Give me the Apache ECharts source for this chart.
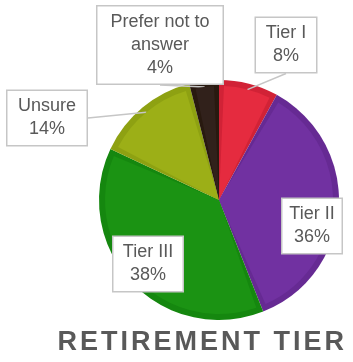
<!DOCTYPE html>
<html>
<head>
<meta charset="utf-8">
<script src="https://cdn.jsdelivr.net/npm/echarts@6/dist/echarts.min.js"></script>
<style>
  html, body { margin: 0; padding: 0; background: #ffffff; }
  #chart { width: 353px; height: 362px; }
</style>
</head>
<body>
<div id="chart"></div>
<script>
// Survey answers: share of respondents by retirement tier (percent)
const categories = ['Tier I', 'Tier II', 'Tier III', 'Unsure', 'Prefer not to answer'];
const labelLines = ['Tier I', 'Tier II', 'Tier III', 'Unsure', 'Prefer not to\nanswer'];
const shares = [8, 36, 38, 14, 4];
const chartTitle = 'RETIREMENT TIER';

// Slice colours: lighter face and a darker rim around each slice
const faceColors = ['#E52B3F', '#7131A1', '#1B9313', '#9CAF17', '#31211B'];
const rimColors  = ['#D12236', '#662A93', '#15870F', '#8EA112', '#28190F'];

// Callout boxes: centre, inner width, and whether a leader line is drawn
const calloutCentres = [[286, 45], [312, 226], [148, 264], [47, 118], [160, 45]];
const calloutWidths = [52, 51, 61, 71, 117];
const calloutLeader = [true, false, false, true, true];

const textGray = '#595959';
const boxGray = '#c6c6c6';
const pieCenter = [219, 200];

const rimData = categories.map((name, i) => ({
  name, value: shares[i], itemStyle: { color: rimColors[i] }
}));

const faceData = categories.map((name, i) => ({
  name, value: shares[i],
  itemStyle: { color: faceColors[i] },
  label: { width: calloutWidths[i] },
  labelLine: { show: calloutLeader[i] }
}));

// Title drawn as spaced capital letters
const titleRich = chartTitle.split('').map(ch => ch === ' ' ? '{sp| }' : '{ch|' + ch + '}').join('');
const titleToken = {
  fontFamily: 'Liberation Sans, Arial, sans-serif',
  fontSize: 27, fontWeight: 'bold', color: textGray,
  padding: [0, 1.5]
};

const chart = echarts.init(document.getElementById('chart'), null, { renderer: 'canvas' });

chart.setOption({
  animation: false,
  backgroundColor: '#ffffff',
  title: {
    text: titleRich,
    left: 56,
    top: 329,
    padding: 0,
    textStyle: { rich: { ch: titleToken, sp: titleToken } }
  },
  series: [
    {
      type: 'pie',
      silent: true,
      center: pieCenter,
      radius: [0, 120],
      startAngle: 90,
      clockwise: true,
      label: { show: false },
      labelLine: { show: false },
      data: rimData,
      z: 1
    },
    {
      type: 'pie',
      center: pieCenter,
      radius: [0, 114],
      startAngle: 90,
      clockwise: true,
      padAngle: 5,
      z: 2,
      label: {
        show: true,
        position: 'outside',
        formatter: p => labelLines[p.dataIndex] + '\n' + p.value + '%',
        fontFamily: 'Liberation Sans, Arial, sans-serif',
        fontSize: 18,
        lineHeight: 23,
        color: textGray,
        backgroundColor: '#ffffff',
        borderColor: boxGray,
        borderWidth: 1.5,
        padding: [4, 4],
        overflow: 'none',
        align: 'center'
      },
      labelLine: {
        lineStyle: { color: boxGray, width: 1.5 },
        length: 6,
        length2: 0
      },
      labelLayout: p => ({
        x: calloutCentres[p.dataIndex][0],
        y: calloutCentres[p.dataIndex][1],
        align: 'center',
        verticalAlign: 'middle'
      }),
      data: faceData
    }
  ]
});
</script>
</body>
</html>
